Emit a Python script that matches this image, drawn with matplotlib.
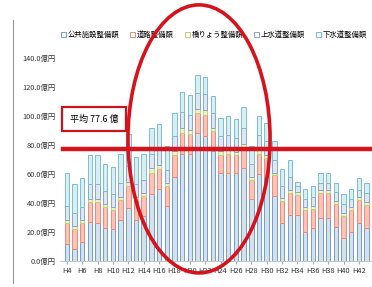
import numpy as np
import matplotlib
matplotlib.use('Agg')
import matplotlib.pyplot as plt
from matplotlib.patches import Ellipse, Rectangle
from matplotlib.lines import Line2D

plt.rcParams['font.family'] = ['Noto Sans CJK JP', 'DejaVu Sans']

years = ['H%d' % y for y in range(4, 44)]

# stacked values (億円)
public = [12, 8, 13, 27, 26, 23, 22, 28, 36.6, 28,
          31, 46, 49.5, 38, 58, 73.6, 73.5, 88, 86, 76,
          61, 61, 61, 64, 43, 60, 58, 45, 26.5, 32,
          31.7, 20, 23, 30, 30, 23.6, 16, 20, 26, 22.6]
road = [14, 14, 13, 14, 15, 14, 13, 14, 15, 14,
        14, 15, 14, 14, 15, 15, 14, 14, 15, 14,
        12, 13, 12, 14, 13, 14, 13, 14, 15, 15,
        14, 15, 13, 17, 17, 16, 15, 15, 16, 16]
bridge = [2, 2, 2, 2, 2, 2, 2, 2, 3, 2,
          2, 3, 3, 2, 3, 3, 3, 3, 3, 2,
          3, 3, 2, 3, 2, 3, 2, 2, 2, 2,
          2, 2, 2, 2, 2, 2, 2, 2, 2, 2]
water = [10, 9, 9, 10, 10, 9, 9, 10, 11, 9,
         9, 10, 10, 9, 10, 11, 10, 11, 11, 10,
         10, 10, 10, 11, 9, 10, 10, 9, 8, 9,
         4, 6, 6, 5, 5, 6, 6, 6, 5, 6]
sewer = [23, 20, 20, 20, 20, 19, 19, 20, 22, 19,
         18, 18, 18, 16, 16, 14, 14, 12, 12, 12,
         13, 13, 13, 14, 12, 13, 12, 13, 12, 12,
         3, 7, 8, 7, 7, 6, 7, 7, 8, 7]
average = 77.6

names = ['公共施設整備額', '道路整備額', '橋りょう整備額', '上水道整備額', '下水道整備額']
faces = ['#d5e0ec', '#f6c4b8', '#eef1d0', '#dde7f1', '#d9edf3']
edges = ['#6f9fc8', '#e88a7c', '#c2d070', '#86a6cc', '#78bfd2']

fig = plt.figure(figsize=(3.72, 2.87), dpi=100)
ax = fig.add_axes([0.161, 0.0906, 0.839, 0.707])

x = np.arange(len(years))
bottom = np.zeros(len(years))
handles = []
for vals, fc, ec, nm in zip([public, road, bridge, water, sewer], faces, edges, names):
    v = np.array(vals, dtype=float)
    ax.bar(x, v, 0.58, bottom=bottom, color=fc, edgecolor=ec, linewidth=0.7)
    bottom += v
    handles.append(Rectangle((0, 0), 1, 1, facecolor='white', edgecolor=ec, linewidth=0.7))

ax.set_xlim(-0.9, 39.7)
ax.set_ylim(0, 140)
ax.set_yticks(range(0, 141, 20))
ax.set_yticklabels(['%d.0億円' % v for v in range(0, 141, 20)], fontsize=5.3, color='#333333')
ax.set_xticks(x[::2])
ax.set_xticklabels(years[::2], fontsize=5.3, color='#333333')
ax.tick_params(axis='y', length=0, pad=3)
ax.tick_params(axis='x', length=2, pad=2, color='#aaaaaa')
for s in ['top', 'right', 'left']:
    ax.spines[s].set_visible(False)
ax.spines['bottom'].set_color('#bbbbbb')
ax.spines['bottom'].set_linewidth(0.6)

# average line and label
ax.axhline(average, xmin=0.01, xmax=1, color='#d7141e', linewidth=3.2, zorder=5)
ax.add_patch(Rectangle((-0.6, 89.5), 8.3, 16.5, facecolor='white', edgecolor='#c8151c',
                       linewidth=1.6, zorder=6, clip_on=False))
ax.text(3.55, 97.8, '平均 77.6 億', fontsize=6.5, ha='center', va='center', zorder=7)

fig.legend(handles, names, loc='center', bbox_to_anchor=(0.575, 0.878), ncol=5,
           fontsize=5.3, frameon=False, handlelength=0.7, handleheight=0.7,
           handletextpad=0.2, columnspacing=1.5)

# hand drawn red ellipse and frame line
fig.patches.append(Ellipse((0.535, 0.516), 0.382, 0.934, transform=fig.transFigure,
                           fill=False, edgecolor='#d8121c', linewidth=2.6, zorder=10))
fig.add_artist(Line2D([13 / 372, 13 / 372], [1 - 20 / 287, 1 - 283 / 287],
                      color='#999999', linewidth=0.8))

fig.savefig('out.png', dpi=100)
